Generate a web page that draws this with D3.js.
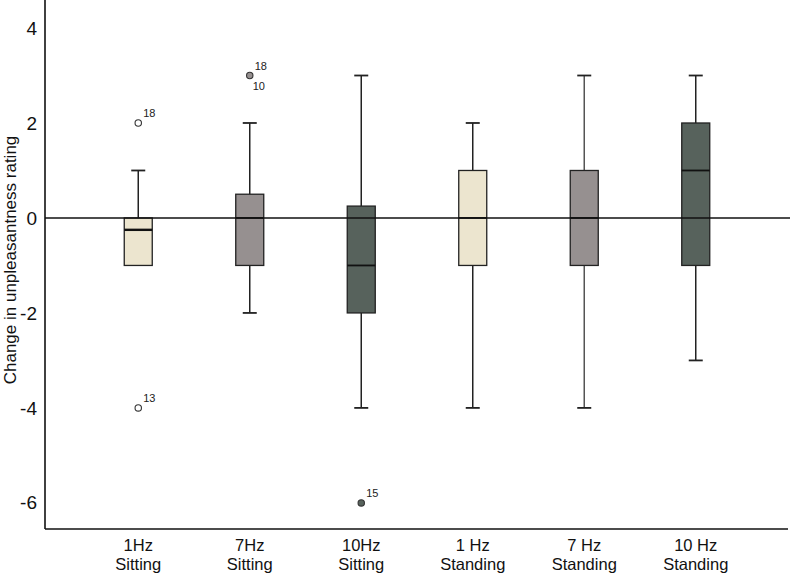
<!DOCTYPE html>
<html><head><meta charset="utf-8">
<script src="https://cdn.jsdelivr.net/npm/d3@7"></script>
<style>body{margin:0;background:#fff}svg{display:block;font-family:"Liberation Sans",Arial,sans-serif}</style>
</head><body><svg id="c" width="790" height="575"></svg>
<script>
const categories = ["1Hz|Sitting","7Hz|Sitting","10Hz|Sitting","1 Hz|Standing","7 Hz|Standing","10 Hz|Standing"];
const q1 =      [-1, -1, -2, -1, -1, -1];
const median =  [-0.25, 0, -1, 0, 0, 1];
const q3 =      [0, 0.5, 0.25, 1, 1, 2];
const whiskLo = [-1, -2, -4, -4, -4, -3];
const whiskHi = [1, 2, 3, 2, 3, 3];
const fills =   ["#ece5cf","#969090","#57625c","#ece5cf","#969090","#57625c"];
const outliers = [
  {cat:0, value:2, label:"18", filled:false},
  {cat:0, value:-4, label:"13", filled:false},
  {cat:1, value:3, label:"18", filled:true, label2:"10"},
  {cat:2, value:-6, label:"15", filled:true}
];
const yTicks = [4, 2, 0, -2, -4, -6];

const svg = d3.select("#c");
const y = d3.scaleLinear().domain([-6.55, 4.59]).range([529, 0]);
const x = d3.scaleBand().domain(categories).range([82.5, 751.5]);
const bw = 28;
const cx = i => x(categories[i]) + x.bandwidth()/2;

// y axis
const yAxis = d3.axisLeft(y).tickValues(yTicks).tickSize(0).tickPadding(8).tickFormat(d => String(d));
const gy = svg.append("g").attr("transform","translate(45,0)").call(yAxis);
gy.select(".domain").remove();
gy.selectAll("text").attr("font-size",19).attr("fill","#111").attr("font-family","Liberation Sans, Arial, sans-serif");
svg.append("line").attr("x1",45).attr("x2",45).attr("y1",0).attr("y2",529).attr("stroke","#111").attr("stroke-width",1.6);

// x axis
const gx = svg.append("g").attr("transform","translate(0,529)").call(d3.axisBottom(x).tickSize(0).tickFormat(""));
gx.select(".domain").remove();
svg.append("line").attr("x1",45).attr("x2",788).attr("y1",529).attr("y2",529).attr("stroke","#111").attr("stroke-width",1.6);
categories.forEach((c,i)=>{
  const parts = c.split("|");
  svg.append("text").attr("text-anchor","middle").attr("font-size",16.5).attr("fill","#111")
    .attr("x",cx(i)).attr("y",551).text(parts[0]);
  svg.append("text").attr("text-anchor","middle").attr("font-size",16.5).attr("fill","#111")
    .attr("x",cx(i)).attr("y",570).text(parts[1]);
});

// y label
svg.append("text").attr("transform","translate(16,260) rotate(-90)").attr("text-anchor","middle")
  .attr("font-size",17).attr("fill","#111").text("Change in unpleasantness rating");

// boxes
categories.forEach((c,i)=>{
  const X = cx(i);
  const g = svg.append("g");
  const wStroke = (i===4) ? "#555" : "#222";
  g.append("line").attr("x1",X).attr("x2",X).attr("y1",y(whiskHi[i])).attr("y2",y(q3[i])).attr("stroke",wStroke).attr("stroke-width",1.5);
  g.append("line").attr("x1",X).attr("x2",X).attr("y1",y(q1[i])).attr("y2",y(whiskLo[i])).attr("stroke",wStroke).attr("stroke-width",1.5);
  if (whiskHi[i] !== q3[i]) g.append("line").attr("x1",X-7).attr("x2",X+7).attr("y1",y(whiskHi[i])).attr("y2",y(whiskHi[i])).attr("stroke","#222").attr("stroke-width",1.8);
  if (whiskLo[i] !== q1[i]) g.append("line").attr("x1",X-7).attr("x2",X+7).attr("y1",y(whiskLo[i])).attr("y2",y(whiskLo[i])).attr("stroke","#222").attr("stroke-width",1.8);
  g.append("rect").attr("x",X-bw/2).attr("width",bw).attr("y",y(q3[i])).attr("height",y(q1[i])-y(q3[i]))
    .attr("fill",fills[i]).attr("stroke","#222").attr("stroke-width",1.3);
});

// zero reference line
svg.append("line").attr("x1",45).attr("x2",790).attr("y1",y(0)).attr("y2",y(0)).attr("stroke","#111").attr("stroke-width",1.6);

// medians
categories.forEach((c,i)=>{
  const X = cx(i);
  svg.append("line").attr("x1",X-bw/2).attr("x2",X+bw/2).attr("y1",y(median[i])).attr("y2",y(median[i]))
    .attr("stroke","#111").attr("stroke-width", i===0 ? 2.4 : 1.8);
});

// outliers
outliers.forEach(o=>{
  const X = cx(o.cat), Y = y(o.value);
  svg.append("circle").attr("cx",X).attr("cy",Y).attr("r",3.2)
    .attr("fill", o.filled ? fills[o.cat] : "#fff").attr("stroke","#333").attr("stroke-width",1.1);
  svg.append("text").attr("x",X+5).attr("y",Y-6).attr("font-size",11).attr("fill","#222").text(o.label);
  if (o.label2) svg.append("text").attr("x",X+3).attr("y",Y+14).attr("font-size",11).attr("fill","#222").text(o.label2);
});
</script></body></html>
